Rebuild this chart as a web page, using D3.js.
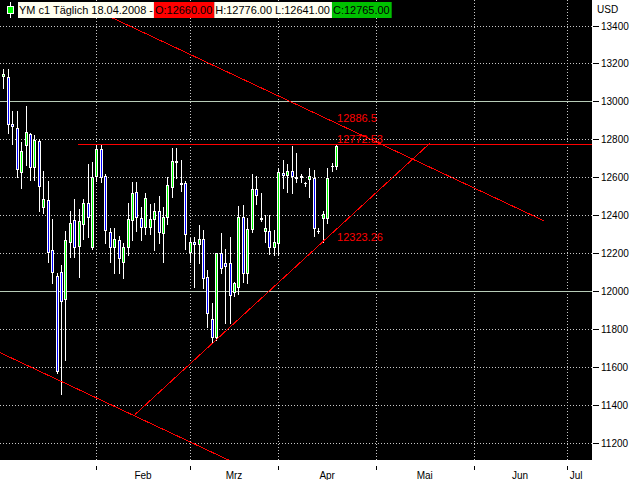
<!DOCTYPE html>
<html><head><meta charset="utf-8">
<script src="https://cdn.jsdelivr.net/npm/d3@7"></script>
<style>body{margin:0;background:#fff}svg{display:block}</style>
</head><body>
<script>
// ---- data (daily bars, 02.01.2008 .. 18.04.2008) ----
const opens  = [13133,13127,12880,12858,12628,12768,12827,12655,12790,12444,12478,12214,12078,12098,11958,12259,12372,12238,12354,12462,12230,
                12607,12748,12606,12309,12230,12268,12154,12230,12374,12520,12383,12338,12338,12377,12421,12307,12388,12549,12680,12571,12571,
                12206,12256,12245,12273,12073,11850,11755,12198,12145,12145,11992,12018,12388,12096,12326,12536,12382,12318,12317,12230,
                12251,12622,12613,12634,12602,12606,12567,12592,12594,12317,12383,12383,12660,12660];
const highs  = [13169,13169,12949,12949,12787,12975,12834,12821,12801,12632,12579,12379,12092,12136,12316,12421,12484,12430,12484,12669,12681,
                12769,12769,12616,12330,12330,12289,12251,12462,12576,12576,12441,12515,12458,12462,12500,12444,12602,12752,12752,12690,12581,
                12277,12282,12347,12321,12110,11934,12201,12303,12221,12285,12045,12447,12453,12383,12615,12606,12514,12400,12400,12321,
                12646,12690,12669,12764,12726,12616,12576,12646,12637,12330,12421,12646,12676,12776];
const lows   = [13069,12831,12773,12599,12541,12664,12585,12585,12423,12409,12150,12043,11565,11454,11635,12177,12177,12074,12273,12282,12220,
                12581,12576,12254,12154,12092,12095,12066,12189,12268,12317,12268,12300,12300,12215,12251,12154,12352,12497,12594,12527,12219,
                12154,12022,12145,12013,11811,11723,11740,12096,11828,11828,11975,11982,12048,12040,12312,12460,12370,12260,12194,12189,
                12189,12544,12523,12518,12576,12576,12553,12493,12291,12307,12259,12356,12634,12641];
const closes = [13144,12879,12868,12641,12738,12836,12652,12796,12555,12483,12205,12098,11577,11945,12268,12356,12230,12367,12462,12388,12602,
                12748,12602,12321,12230,12273,12171,12230,12379,12515,12388,12338,12488,12377,12421,12312,12388,12558,12687,12686,12562,12298,
                12256,12246,12273,12066,11881,11755,12198,12119,12133,11976,12040,12388,12096,12326,12536,12504,12380,12330,12233,12256,
                12625,12613,12634,12606,12598,12600,12567,12606,12333,12317,12404,12594,12660,12765];

const monthTicks  = [21, 42, 62, 84, 106, 127];          // bar index of first trading day
const monthLabels = ["Feb", "Mrz", "Apr", "Mai", "Jun", "Jul"];
const priceTicks  = [11200, 11400, 11600, 11800, 12000, 12200, 12400, 12600, 12800, 13000, 13200, 13400];
const levelLines  = [12000, 13000];
const resistance  = {start: 16.85, price: 12772.53};
// trend lines: [barIndex1, price1, barIndex2, price2]
const trendLines  = [[24.14, 13445, 122.0, 12368],
                     [29.7, 11348, 96.3, 12782],
                     [-0.74, 11674, 60, 11006]];
const lineLabels  = ["12886.5", "12772.53", "12323.26"];
const lineValues  = [12886.5, 12772.53, 12323.26];
const headerTitle = "YM c1 Täglich 18.04.2008 - ";
const ohlcText    = ["O:12660.00", "H:12776.00 L:12641.00", "C:12765.00"];

// ---- layout ----
const W = 640, H = 480, PW = 592, PH = 460;
const x = d3.scaleLinear().domain([-0.75, 132.7]).range([0, PW]);
const y = d3.scaleLinear().domain([11200, 13400]).range([442.5, 25.5]);
const FONT = "'Liberation Sans', Arial, sans-serif";

const svg = d3.select("body").append("svg").attr("width", W).attr("height", H);
svg.append("rect").attr("width", W).attr("height", H).attr("fill", "#fff");
svg.append("defs").append("clipPath").attr("id", "clip")
  .append("rect").attr("width", PW).attr("height", PH);
svg.append("rect").attr("width", PW).attr("height", PH).attr("fill", "#000");

const plot = svg.append("g").attr("clip-path", "url(#clip)");
const px = v => Math.round(v) + 0.5;

// dotted grid
plot.selectAll(".hg").data(priceTicks).join("line")
  .attr("x1", 0).attr("x2", PW)
  .attr("y1", d => px(y(d))).attr("y2", d => px(y(d)))
  .attr("stroke", "#c8c8c8").attr("stroke-dasharray", "1,2").attr("shape-rendering", "crispEdges");
plot.selectAll(".vg").data(monthTicks).join("line")
  .attr("x1", d => px(x(d))).attr("x2", d => px(x(d)))
  .attr("y1", 0).attr("y2", PH)
  .attr("stroke", "#c8c8c8").attr("stroke-dasharray", "1,2").attr("shape-rendering", "crispEdges");

// level lines
plot.selectAll(".lv").data(levelLines).join("line")
  .attr("x1", 0).attr("x2", PW)
  .attr("y1", d => px(y(d))).attr("y2", d => px(y(d)))
  .attr("stroke", "#b8ccb8").attr("shape-rendering", "crispEdges");

// candles
const idx = d3.range(opens.length);
const cg = plot.append("g");
idx.forEach(i => {
  const cx = Math.round(x(i));
  const yh = Math.round(y(highs[i])), yl = Math.round(y(lows[i]));
  cg.append("rect").attr("x", cx).attr("y", yh).attr("width", 1).attr("height", yl - yh + 1).attr("fill", "#fff");
  const top = Math.round(y(Math.max(opens[i], closes[i])));
  const bot = Math.round(y(Math.min(opens[i], closes[i])));
  if (bot - top < 2) {
    cg.append("rect").attr("x", cx - 1).attr("y", top).attr("width", 3).attr("height", bot - top + 1).attr("fill", "#fff");
  } else {
    cg.append("rect").attr("x", cx - 1).attr("y", top).attr("width", 3).attr("height", bot - top + 1).attr("fill", "#fff");
    cg.append("rect").attr("x", cx).attr("y", top + 1).attr("width", 1).attr("height", bot - top - 1)
      .attr("fill", closes[i] >= opens[i] ? "#00ff00" : "#0000ff");
  }
});

// red lines
plot.append("line")
  .attr("x1", x(resistance.start)).attr("x2", PW)
  .attr("y1", px(y(resistance.price))).attr("y2", px(y(resistance.price)))
  .attr("stroke", "#ff0000").attr("shape-rendering", "crispEdges");
plot.selectAll(".tl").data(trendLines).join("line")
  .attr("x1", d => x(d[0])).attr("y1", d => y(d[1]))
  .attr("x2", d => x(d[2])).attr("y2", d => y(d[3]))
  .attr("stroke", "#ff0000").attr("shape-rendering", "crispEdges");

// line value labels
const lastX = x(opens.length - 1) + 1;
const labOff = [-1, -1, 11];
plot.selectAll(".ll").data(lineLabels).join("text")
  .attr("x", lastX).attr("y", (d, i) => y(lineValues[i]) + labOff[i])
  .attr("font-family", FONT).attr("font-size", 11).attr("fill", "#ff0000")
  .text(d => d);

// right axis
const ra = svg.append("g");
ra.selectAll(".rt").data(priceTicks).join("line")
  .attr("x1", 593).attr("x2", 599)
  .attr("y1", d => px(y(d))).attr("y2", d => px(y(d)))
  .attr("stroke", "#000").attr("shape-rendering", "crispEdges");
ra.selectAll(".rl").data(priceTicks).join("text")
  .attr("x", 601).attr("y", d => y(d) + 4)
  .attr("font-family", FONT).attr("font-size", 10).attr("fill", "#000")
  .text(d => d);
ra.append("text").attr("x", 597).attr("y", 13)
  .attr("font-family", FONT).attr("font-size", 10).attr("fill", "#000").text("USD");

// bottom axis
const ba = svg.append("g");
ba.selectAll(".bt").data(monthTicks).join("line")
  .attr("x1", d => px(x(d))).attr("x2", d => px(x(d)))
  .attr("y1", 466).attr("y2", 470)
  .attr("stroke", "#000").attr("shape-rendering", "crispEdges");
ba.selectAll(".bl").data(monthLabels).join("text")
  .attr("x", (d, i) => i < monthTicks.length - 1 ? x((monthTicks[i] + monthTicks[i + 1]) / 2) : x(monthTicks[i]) + 3)
  .attr("text-anchor", (d, i) => i < monthTicks.length - 1 ? "middle" : "start")
  .attr("y", 479)
  .attr("font-family", FONT).attr("font-size", 10).attr("fill", "#000")
  .text(d => d);

// header
const hd = svg.append("g");
hd.append("rect").attr("x", 0).attr("y", 0).attr("width", 18).attr("height", 19).attr("fill", "#000");
hd.append("rect").attr("x", 10).attr("y", 2).attr("width", 1).attr("height", 16).attr("fill", "#fff");
hd.append("rect").attr("x", 7).attr("y", 6).attr("width", 7).attr("height", 8).attr("fill", "#fff");
hd.append("rect").attr("x", 8).attr("y", 7).attr("width", 5).attr("height", 6).attr("fill", "#00ff00");
const segs = [
  {t: headerTitle, bg: "#fffff0", x0: 18},
  {t: ohlcText[0], bg: "#ff0000"},
  {t: ohlcText[1], bg: "#fffff0"},
  {t: ohlcText[2], bg: "#00c000"}
];
// fit font size so the title spans the measured width
const probe = hd.append("text").attr("font-family", FONT).attr("font-size", 11).text(headerTitle);
const fs = 11 * 134 / probe.node().getComputedTextLength();
probe.remove();
let cx0 = 18;
segs.forEach((s, i) => {
  const r = hd.append("rect").attr("x", cx0).attr("y", 2).attr("height", 16).attr("fill", s.bg);
  const t = hd.append("text").attr("x", cx0 + 1).attr("y", 14)
    .attr("font-family", FONT).attr("font-size", fs).attr("fill", "#000").text(s.t);
  const w = t.node().getComputedTextLength() + (i === 0 ? 2 : 3);
  r.attr("width", w);
  cx0 += w;
});
</script>
</body></html>
